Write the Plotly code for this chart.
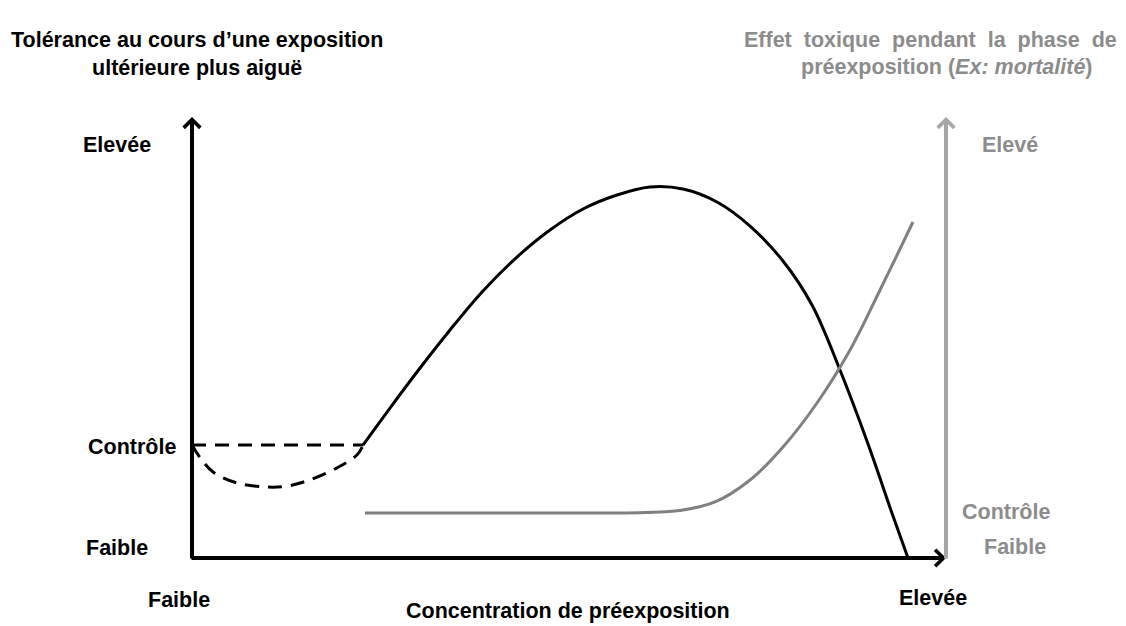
import plotly.graph_objects as go

# ---------------- data (concept units: x 0-100 concentration, y 0-100 response) ----------------
tol_x = [22.68, 26.26, 29.84, 34.22, 38.59, 43.10, 47.48, 51.86, 56.37, 60.74, 65.12, 69.63,
         74.01, 78.38, 82.23, 85.94, 89.66, 92.97, 94.96]
tol_y = [25.62, 34.01, 42.18, 51.70, 60.54, 68.25, 74.38, 79.14, 82.31, 84.13, 83.67, 80.73,
         75.28, 67.35, 57.37, 42.63, 25.85, 9.52, 0.0]

ctrl_x = [0.0, 22.7]
ctrl_y = [25.6, 25.6]

dip_x = [0.0, 1.1, 2.8, 6.0, 9.9, 12.6, 15.6, 19.2, 21.9, 22.7]
dip_y = [25.6, 22.7, 19.5, 17.0, 16.1, 16.3, 17.7, 20.4, 23.4, 25.6]

tox_x = [22.94, 27.59, 32.23, 36.87, 41.51, 46.15, 50.80, 55.44, 60.08, 64.72, 69.36, 74.01,
         78.38, 82.89, 87.27, 91.25, 95.62]
tox_y = [10.20, 10.20, 10.20, 10.20, 10.20, 10.20, 10.20, 10.20, 10.32, 10.77, 12.70, 17.69,
         25.17, 35.15, 47.17, 60.77, 76.19]

# ---------------- styling / geometry ----------------
W, H = 1126, 626
X0_PX, X100_PX = 192, 946
Y0_PX, Y100_PX = 558, 117
sx = (X100_PX - X0_PX) / 100.0
sy = (Y0_PX - Y100_PX) / 100.0
xrange = [-X0_PX / sx, (W - X0_PX) / sx]
yrange = [(Y0_PX - H) / sy, Y0_PX / sy]

FONT = "Liberation Sans, Arial, sans-serif"
FS = 21.5
BLACK = "#000000"
GRAY_TXT = "#8C8C8C"
GRAY_LINE = "#808080"
GRAY_AXIS = "#A6A6A6"

fig = go.Figure()

fig.add_trace(go.Scatter(x=ctrl_x, y=ctrl_y, mode="lines",
                         line=dict(color=BLACK, width=3, dash="14px,9px")))
fig.add_trace(go.Scatter(x=dip_x, y=dip_y, mode="lines",
                         line=dict(color=BLACK, width=3, dash="14px,9px", shape="spline")))
fig.add_trace(go.Scatter(x=tol_x, y=tol_y, mode="lines",
                         line=dict(color=BLACK, width=3, shape="spline")))
fig.add_trace(go.Scatter(x=tox_x, y=tox_y, mode="lines",
                         line=dict(color=GRAY_LINE, width=3, shape="spline")))

annotations = []

# axis arrows
def arrow(x, y, ax, ay, color):
    return dict(x=x, y=y, ax=ax, ay=ay, xref="x", yref="y", axref="x", ayref="y",
                showarrow=True, arrowhead=4, arrowsize=0.8, arrowwidth=4,
                arrowcolor=color, text="", standoff=0, startstandoff=0)

half_w_x = 2 / sx
half_w_y = 2 / sy
annotations.append(arrow(0, 100, 0, -half_w_y, BLACK))
annotations.append(arrow(100, 0, -half_w_x, 0, BLACK))
annotations.append(arrow(100, 100, 100, -half_w_y, GRAY_AXIS))

def label(text, px, py, color=BLACK):
    return dict(x=px / W, y=1 - py / H, xref="paper", yref="paper", text=f"<b>{text}</b>",
                showarrow=False, xanchor="center", yanchor="middle", align="center",
                font=dict(family=FONT, size=FS, color=color))

NB = "\u00a0"
right_title_1 = f"{NB} ".join(["Effet", "toxique", "pendant", "la", "phase", "de"])

annotations += [
    label("Tolérance au cours d’une exposition<br>ultérieure plus aiguë", 197, 54),
    label(right_title_1, 930, 40, GRAY_TXT),
    label("préexposition (<i>Ex: mortalité</i>)", 947, 67, GRAY_TXT),
    label("Elevée", 117, 145),
    label("Contrôle", 132, 447),
    label("Faible", 117, 548),
    label("Faible", 179, 600),
    label("Concentration de préexposition", 568, 611),
    label("Elevée", 933, 598),
    label("Elevé", 1010, 145, GRAY_TXT),
    label("Contrôle", 1006, 512, GRAY_TXT),
    label("Faible", 1015, 547, GRAY_TXT),
]

fig.update_layout(
    width=W, height=H,
    margin=dict(l=0, r=0, t=0, b=0),
    paper_bgcolor="white", plot_bgcolor="white",
    showlegend=False,
    xaxis=dict(range=xrange, visible=False, fixedrange=True),
    yaxis=dict(range=yrange, visible=False, fixedrange=True),
    annotations=annotations,
)

fig.write_html("out.html", config={"displayModeBar": False},
               post_script="document.body.style.margin='0px';document.body.style.overflow='hidden';")
